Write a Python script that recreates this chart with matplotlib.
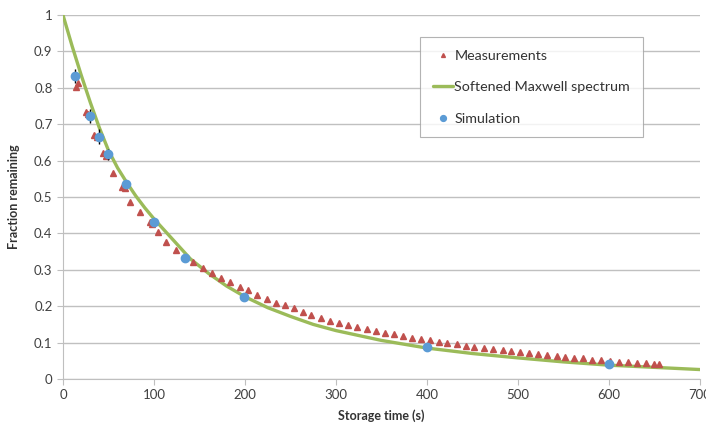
import matplotlib
matplotlib.use("Agg")
import matplotlib.pyplot as plt
import numpy as np

plt.rcParams['font.family'] = ['Lato', 'DejaVu Sans']

# measured fraction remaining (red triangles)
meas_t = [14, 16, 25, 27, 34, 37, 44, 47, 55, 65, 68, 74, 85, 96, 98, 104, 113, 124,
          134, 143, 154, 164, 174, 184, 194, 203, 213, 224, 234, 244, 254, 264, 273,
          283, 293, 303, 313, 323, 334, 344, 354, 364, 374, 384, 393, 403, 413, 422,
          433, 443, 452, 463, 473, 483, 492, 502, 512, 522, 532, 543, 552, 562, 571,
          581, 591, 601, 611, 621, 631, 641, 650, 655]
meas_v = [0.803, 0.812, 0.734, 0.727, 0.67, 0.664, 0.62, 0.614, 0.566, 0.528, 0.524,
          0.487, 0.46, 0.43, 0.425, 0.405, 0.377, 0.355, 0.335, 0.321, 0.305, 0.291,
          0.277, 0.266, 0.253, 0.245, 0.231, 0.22, 0.21, 0.203, 0.195, 0.185, 0.177,
          0.168, 0.16, 0.154, 0.148, 0.143, 0.137, 0.133, 0.127, 0.123, 0.118, 0.114,
          0.11, 0.107, 0.103, 0.1, 0.096, 0.092, 0.088, 0.085, 0.082, 0.079, 0.076,
          0.073, 0.071, 0.068, 0.066, 0.063, 0.061, 0.059, 0.057, 0.053, 0.051, 0.049,
          0.047, 0.046, 0.045, 0.043, 0.042, 0.042]

# softened Maxwell spectrum curve (green)
curve_t = [0, 10, 20, 30, 40, 50, 60, 70, 80, 90, 100, 120, 140, 160, 180, 200, 225,
           250, 275, 300, 350, 400, 450, 500, 550, 600, 650, 700]
curve_v = [1.0, 0.915, 0.835, 0.76, 0.69, 0.628, 0.58, 0.54, 0.503, 0.47, 0.44, 0.385,
           0.33, 0.29, 0.255, 0.226, 0.196, 0.172, 0.15, 0.133, 0.106, 0.085, 0.07,
           0.058, 0.047, 0.038, 0.032, 0.026]

# simulation points (blue)
sim_t = [13, 30, 40, 50, 69, 100, 134, 199, 400, 600]
sim_v = [0.832, 0.722, 0.666, 0.618, 0.536, 0.432, 0.332, 0.226, 0.088, 0.041]
sim_err = [0.02, 0.02, 0.02, 0.015, 0.012, 0.01, 0.01, 0.008, 0.005, 0.004]

fig = plt.figure(figsize=(7.06, 4.37), dpi=100)
ax = fig.add_axes([0.0892, 0.1327, 0.9023, 0.833])

line, = ax.plot(curve_t, curve_v, color='#9bbb59', lw=2.4, zorder=3,
                solid_capstyle='round')
meas, = ax.plot(meas_t, meas_v, ls='none', marker='^', ms=4.0, color='#c0504d',
                mec='#c0504d', zorder=4)
ax.errorbar(sim_t, sim_v, yerr=sim_err, fmt='none', ecolor='black', elinewidth=1,
            capsize=0, zorder=5)
sim, = ax.plot(sim_t, sim_v, ls='none', marker='o', ms=6.0, color='#5b9bd5',
               mec='#5b9bd5', zorder=6)

ax.set_xlim(0, 700)
ax.set_ylim(0, 1)
ax.set_xticks(np.arange(0, 701, 100))
ax.set_yticks(np.arange(0, 1.01, 0.1))
ax.set_yticklabels(['0'] + ['%.1f' % v for v in np.arange(0.1, 0.95, 0.1)] + ['1'])
ax.yaxis.grid(True, color='#c0c0c0', lw=1)
ax.set_axisbelow(True)
for s in ['top', 'right']:
    ax.spines[s].set_visible(False)
for s in ['left', 'bottom']:
    ax.spines[s].set_color('#bfbfbf')
ax.tick_params(colors='#bfbfbf', labelcolor='#404040', labelsize=9.5, length=4,
               direction='out')

ax.set_xlabel('Storage time (s)', fontsize=9, fontweight='bold', color='#333333',
              labelpad=6)
ax.set_ylabel('Fraction remaining', fontsize=9, fontweight='bold', color='#333333',
              labelpad=10)

leg = ax.legend([meas, line, sim],
                ['Measurements', 'Softened Maxwell spectrum', 'Simulation'],
                loc='upper left', bbox_to_anchor=(0.5605, 0.9396), borderaxespad=0,
                fontsize=10.3, frameon=True, fancybox=False, edgecolor='#a0a0a0',
                handlelength=1.4, borderpad=0.9, labelspacing=1.35, handletextpad=0.1,
                markerscale=0.7)
leg.get_frame().set_linewidth(0.8)
for t in leg.get_texts():
    t.set_color('#333333')

fig.savefig('out.png', dpi=100)
